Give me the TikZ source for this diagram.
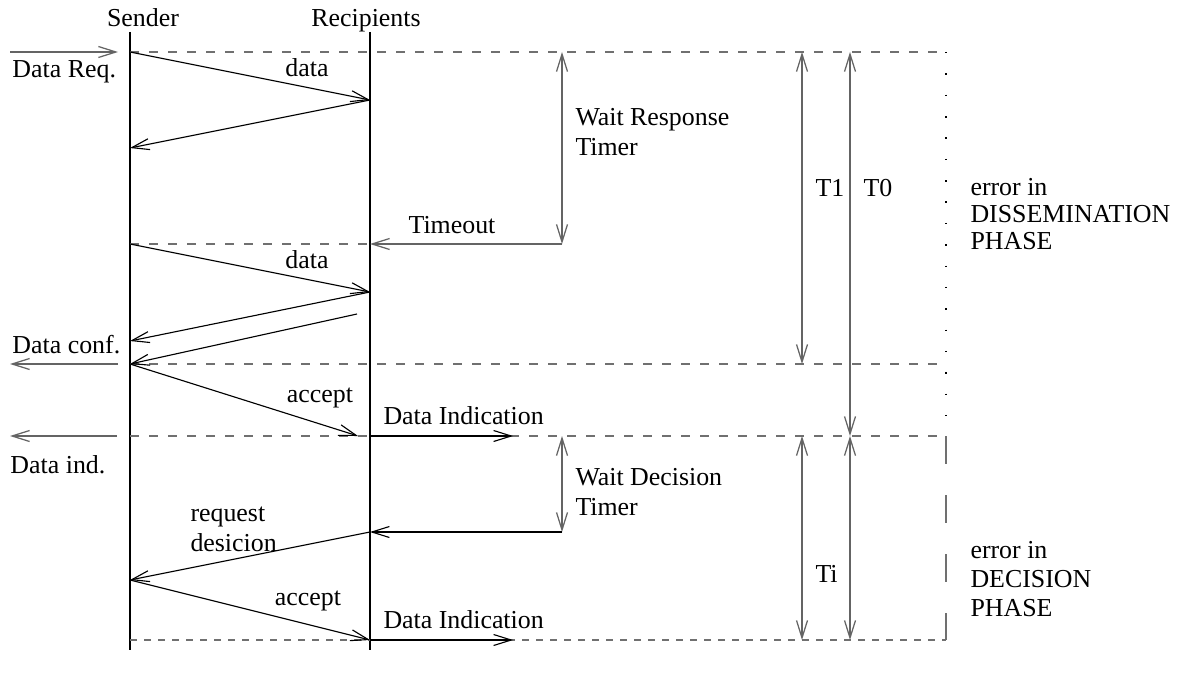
\documentclass[tikz,border=0pt]{standalone}
\usepackage{fontspec}
\setmainfont{Liberation Serif}
\usetikzlibrary{arrows.meta}
\definecolor{guide}{RGB}{112,112,112}
\definecolor{timer}{RGB}{100,100,100}
\begin{document}
\begin{tikzpicture}[x=0.4pt,y=-0.4pt,
  vtip/.tip={Straight Barb[length=7pt,width=4.4pt]},
  life/.style={black,line width=0.45pt},
  msg/.style={black,line width=0.45pt,-{vtip}},
  ext/.style={timer,line width=0.5pt,-{vtip}},
  span/.style={timer,line width=0.5pt,{vtip}-{vtip}},
  guideline/.style={guide,line width=0.5pt,dash pattern=on 3.6pt off 4pt},
  fineguide/.style={guide,line width=0.5pt,dash pattern=on 2.8pt off 2.8pt},
  lbl/.style={inner sep=0pt,font=\fontsize{10.35}{10.8}\selectfont},
  multi/.style={lbl,align=left,anchor=north west}]
\useasboundingbox (0,0) rectangle (1185,679);

% lifelines
\coordinate (S0) at (130,32);  \coordinate (S1) at (130,650);
\coordinate (R0) at (370,32);  \coordinate (R1) at (370,650);
\draw[life] (S0) -- (S1);
\draw[life] (R0) -- (R1);
\node[lbl,anchor=base] (hs) at (143,27) {Sender};
\node[lbl,anchor=base] (hr) at (366,27) {Recipients};

% message end points
\coordinate (a1) at (130,52);   \coordinate (b1) at (370,100);
\coordinate (a2) at (130,148);
\coordinate (a3) at (130,244);  \coordinate (k3) at (370,244);
\coordinate (b3) at (370,292);  \coordinate (a4) at (130,341);
\coordinate (c4) at (357,314);  \coordinate (a5) at (130,364);
\coordinate (c5) at (358,436);  \coordinate (a6) at (130,436);
\coordinate (b6) at (370,436);  \coordinate (b7) at (370,532);
\coordinate (a7) at (130,580);  \coordinate (a8) at (130,640);
\coordinate (b8) at (370,640);

% right frame corners
\coordinate (e1) at (946,52);   \coordinate (e3) at (946,364);
\coordinate (e4) at (946,436);  \coordinate (e5) at (946,640);

% phase boundaries
\draw[guideline] (a1) -- (e1);
\draw[guideline] (a3) -- (k3);
\draw[guideline] (a5) -- (e3);
\draw[guideline] (a6) -- (e4);
\draw[fineguide] (a8) -- (e5);
\draw[black,line width=0.6pt,dash pattern=on 0.6pt off 7.94pt] (e1) -- (e4);
\draw[guide,line width=0.6pt,dash pattern=on 11.2pt off 12.4pt] (e4) -- (e5);

% timers
\coordinate (w1) at (562,52);   \coordinate (w2) at (562,244);
\coordinate (w3) at (562,436);  \coordinate (w4) at (562,532);
\coordinate (t1a) at (802,52);  \coordinate (t1b) at (802,364);
\coordinate (t0a) at (850,52);  \coordinate (t0b) at (850,436);
\coordinate (tia) at (802,436); \coordinate (tib) at (802,640);
\coordinate (t2a) at (850,436); \coordinate (t2b) at (850,640);
\draw[span] (w1) -- (w2);
\draw[span] (w3) -- (w4);
\draw[span] (t1a) -- (t1b);
\draw[span] (t0a) -- (t0b);
\draw[span] (tia) -- (tib);
\draw[span] (t2a) -- (t2b);
\draw[ext] (w2) -- (k3);
\draw[msg] (w4) -- (b7);

% service primitives
\coordinate (q0) at (10,52);   \coordinate (q1) at (118,52);
\coordinate (f1) at (118,364); \coordinate (f0) at (10,364);
\coordinate (g1) at (117,436); \coordinate (g0) at (10,436);
\coordinate (d1) at (513,436); \coordinate (d2) at (513,640);
\draw[ext] (q0) -- (q1);
\draw[ext] (f1) -- (f0);
\draw[ext] (g1) -- (g0);
\draw[msg] (b6) -- (d1);
\draw[msg] (b8) -- (d2);

% messages
\draw[msg] (a1) -- (b1);
\draw[msg] (b1) -- (a2);
\draw[msg] (a3) -- (b3);
\draw[msg] (b3) -- (a4);
\draw[msg] (c4) -- (a5);
\draw[msg] (a5) -- (c5);
\draw[msg] (b7) -- (a7);
\draw[msg] (a7) -- (b8);

% labels
\node[lbl,anchor=base west] (l1) at (12,78) {Data Req.};
\node[lbl,anchor=base] (l2) at (307,77) {data};
\node[multi,font=\fontsize{10.35}{12}\selectfont] (l3) at (575,108) {Wait Response\\Timer};
\node[lbl,anchor=base] (l4) at (452,233) {Timeout};
\node[lbl,anchor=base] (l5) at (307,268) {data};
\node[lbl,anchor=base west] (l6) at (12,353) {Data conf.};
\node[lbl,anchor=base] (l7) at (320,402) {accept};
\node[lbl,anchor=base west] (l8) at (383,424) {Data Indication};
\node[lbl,anchor=base west] (l9) at (10,473) {Data ind.};
\node[multi,font=\fontsize{10.35}{12}\selectfont] (l10) at (575,468) {Wait Decision\\Timer};
\node[multi,font=\fontsize{10.35}{12.2}\selectfont] (l11) at (190,506) {request\\desicion};
\node[lbl,anchor=base] (l12) at (308,605) {accept};
\node[lbl,anchor=base west] (l13) at (383,628) {Data Indication};
\node[lbl,anchor=base west] (l14) at (815,197) {T1};
\node[lbl,anchor=base west] (l15) at (863,197) {T0};
\node[lbl,anchor=base west] (l16) at (815,582) {Ti};
\node[multi] (l17) at (970,178) {error in\\DISSEMINATION\\PHASE};
\node[multi,font=\fontsize{10.35}{11.6}\selectfont] (l18) at (970,541) {error in\\DECISION\\PHASE};
\end{tikzpicture}
\end{document}
